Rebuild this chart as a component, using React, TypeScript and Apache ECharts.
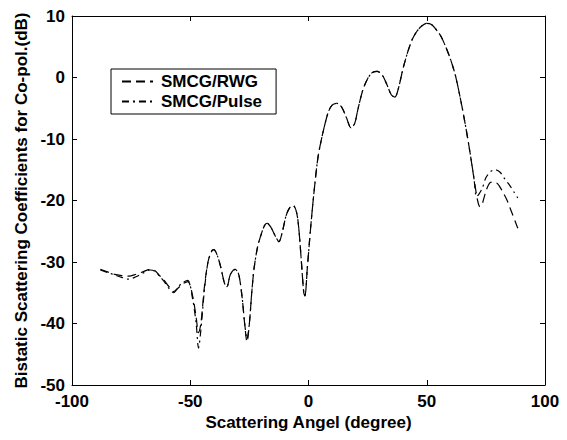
import React, { useEffect, useRef } from "react";
import * as echarts from "echarts";

const xTicks = [-100, -50, 0, 50, 100];
const yTicks = [-50, -40, -30, -20, -10, 0, 10];

const rwgAngle = [
  -88, -85, -82, -79, -76, -73, -70, -67, -65, -63, -61, -59, -57, -55, -53, -51,
  -49, -47.5, -46.5, -45.5, -44, -42.5, -41, -40, -38.5, -37, -35.5, -34.5, -33, -31,
  -29.5, -28, -27, -26, -25, -24, -23, -21.5, -20, -18.5, -17.5, -16, -14, -12.5, -11,
  -9.5, -8, -6.5, -5, -4, -3, -2, -1.5, -0.5, 1, 2.5, 4, 5.5, 7, 8.5, 10, 12, 14, 16,
  18, 19.5, 21, 23, 25, 27, 29, 31, 33, 35, 36.5, 38, 40, 42, 44, 46, 48, 50, 52, 54,
  56, 58, 60, 62, 64, 66, 68, 70, 71.5, 72.5, 73.5, 75, 76.5, 78, 80, 82, 84, 86, 88.5,
];
const rwgValue = [
  -31.2, -31.6, -32.0, -32.2, -32.3, -32.0, -31.6, -31.2, -31.4, -32.2, -33.0, -34.0, -34.8, -34.2, -33.5, -33.2,
  -35.5, -39, -41.5, -40, -34, -30, -28.2, -28, -29, -31, -33.5, -34, -32, -31.2,
  -32, -36, -40, -43, -40, -35, -31, -27.5, -25.5, -24, -23.7, -24.3, -25.8, -26.7, -25,
  -22.5, -21.2, -20.8, -22, -25, -30, -35, -35.5, -31, -24, -18, -13, -10, -7.5, -5.5, -4.5, -4.2, -4.8, -6.5,
  -8.2, -7.5, -5, -2, -0.2, 0.8, 1.0, 0.5, -1, -2.8, -3.2, -1.8, 1.5, 4.2, 6.3, 7.6, 8.4, 8.8, 8.6, 7.8,
  6.7, 5, 3, 0.5, -3, -7, -11.5, -16.5, -20, -21, -20.5, -18.5, -17.2, -17, -17.3, -18.5, -20, -22, -24.5,
];

const pulseAngle = [
  -88, -85, -82, -79, -76, -73, -70, -67, -65, -63, -61, -59, -57, -55, -53, -51,
  -49, -47.5, -46.5, -45.5, -44, -42.5, -41, -40, -38.5, -37, -35.5, -34.5, -33, -31,
  -29.5, -28, -27, -26, -25, -24, -23, -21.5, -20, -18.5, -17.5, -16, -14, -12.5, -11,
  -9.5, -8, -6.5, -5, -4, -3, -2, -1.5, -0.5, 1, 2.5, 4, 5.5, 7, 8.5, 10, 12, 14, 16,
  18, 19.5, 21, 23, 25, 27, 29, 31, 33, 35, 36.5, 38, 40, 42, 44, 46, 48, 50, 52, 54,
  56, 58, 60, 62, 64, 66, 68, 70, 71, 72, 73.5, 75, 77, 79, 81, 83, 85, 87, 88.5,
];
const pulseValue = [
  -31.3, -31.7, -32.1, -32.5, -32.8, -32.4, -31.8, -31.3, -31.5, -32.3, -33.2, -34.3, -35.0, -34.0, -33.3, -33.0,
  -36, -40, -44, -41, -34.5, -30, -28.3, -28, -29, -31, -33.5, -34, -32, -31.2,
  -32, -36, -40, -42.5, -40, -35, -31, -27.5, -25.5, -24, -23.7, -24.3, -25.8, -26.7, -25,
  -22.5, -21.2, -20.8, -22, -25, -30, -35, -35.5, -31, -24, -18, -13, -10, -7.5, -5.5, -4.5, -4.2, -4.8, -6.5,
  -8.2, -7.5, -5, -2, -0.2, 0.8, 1.0, 0.5, -1, -2.8, -3.2, -1.8, 1.5, 4.2, 6.3, 7.6, 8.4, 8.8, 8.6, 7.8,
  6.7, 5, 3, 0.5, -3, -7, -11.5, -16.5, -19.4, -19, -18, -16.3, -15.3, -15, -15.4, -16.5, -17.5, -18.7, -19.6,
];

const seriesNames = ["SMCG/RWG", "SMCG/Pulse"];

const FONT = "'Liberation Sans', Arial, sans-serif";

export default function App() {
  const ref = useRef<HTMLDivElement>(null);
  useEffect(() => {
    if (!ref.current) return;
    const chart = echarts.init(ref.current, null, { renderer: "svg" });
    const rwg = rwgAngle.map((a, i) => [a, rwgValue[i]]);
    const pulse = pulseAngle.map((a, i) => [a, pulseValue[i]]);
    const axisCommon = {
      axisLine: { show: true, onZero: false, lineStyle: { color: "#000", width: 1 } },
      axisTick: { show: true, inside: true, length: 5, lineStyle: { color: "#000" } },
      splitLine: { show: false },
    };
    const labelStyle = { color: "#000", fontSize: 17, fontWeight: "bold" as const, fontFamily: FONT };
    chart.setOption({
      animation: false,
      backgroundColor: "#fff",
      grid: { left: 72, right: 22, top: 16, bottom: 55, containLabel: false },
      xAxis: [
        {
          type: "value",
          position: "bottom",
          min: xTicks[0],
          max: xTicks[xTicks.length - 1],
          interval: 50,
          ...axisCommon,
          axisLabel: { ...labelStyle, margin: 10, lineHeight: 12 },
          name: "Scattering Angel (degree)",
          nameLocation: "middle",
          nameGap: 27,
          nameTextStyle: labelStyle,
        },
        {
          type: "value",
          position: "top",
          min: xTicks[0],
          max: xTicks[xTicks.length - 1],
          interval: 50,
          ...axisCommon,
          axisLabel: { show: false },
        },
      ],
      yAxis: [
        {
          type: "value",
          position: "left",
          min: yTicks[0],
          max: yTicks[yTicks.length - 1],
          interval: 10,
          ...axisCommon,
          axisLabel: { ...labelStyle, margin: 7, lineHeight: 12 },
          name: "Bistatic Scattering Coefficients for Co-pol.(dB)",
          nameLocation: "middle",
          nameGap: 38,
          nameTextStyle: labelStyle,
        },
        {
          type: "value",
          position: "right",
          min: yTicks[0],
          max: yTicks[yTicks.length - 1],
          interval: 10,
          ...axisCommon,
          axisLabel: { show: false },
        },
      ],
      legend: {
        orient: "vertical",
        left: 111,
        top: 69,
        data: seriesNames,
        backgroundColor: "#fff",
        borderColor: "#000",
        borderWidth: 1,
        borderRadius: 0,
        padding: [4, 14, 4, 10],
        itemGap: 3,
        itemWidth: 31,
        itemHeight: 14,
        itemStyle: { opacity: 0 },
        textStyle: { ...labelStyle, padding: [0, 0, 0, 3] },
      },
      series: [
        {
          name: seriesNames[0],
          type: "line",
          data: rwg,
          smooth: 0.3,
          symbol: "none",
          lineStyle: { color: "#000", width: 1.2, type: [9, 5] },
          itemStyle: { color: "#000" },
        },
        {
          name: seriesNames[1],
          type: "line",
          data: pulse,
          smooth: 0.3,
          symbol: "none",
          lineStyle: { color: "#000", width: 1.2, type: [7, 4, 2, 4] },
          itemStyle: { color: "#000" },
        },
      ],
    });
    return () => chart.dispose();
  }, []);
  return <div ref={ref} style={{ width: 567, height: 440, position: "absolute", left: 0, top: 0 }} />;
}
